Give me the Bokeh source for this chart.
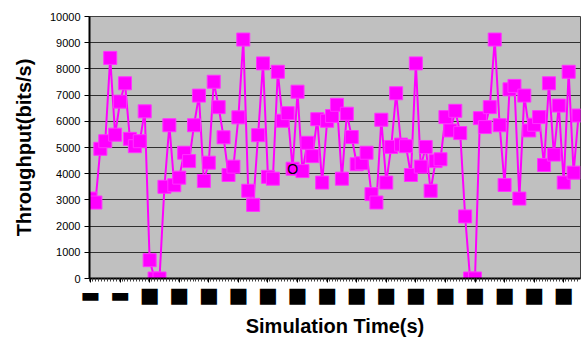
from bokeh.plotting import figure
from bokeh.models import Range1d, FixedTicker, ColumnDataSource
from bokeh.core.properties import value
from bokeh.embed import file_html
from bokeh.resources import INLINE

# ---- data ----
times = list(range(1, 101))
throughput = [
    3050, 2900, 4950, 5240, 8420, 5490, 6750, 7450, 5330, 5050,
    5240, 6380, 700, 0, 0, 3500, 5850, 3560, 3850, 4800,
    4480, 5850, 6980, 3720, 4420, 7510, 6540, 5390, 3950, 4270,
    6150, 9120, 3350, 2810, 5470, 8210, 3880, 3810, 7890, 6020,
    6310, 4190, 7130, 4100, 5180, 4670, 6080, 3660, 6020, 6200,
    6630, 3810, 6290, 5400, 4360, 4400, 4800, 3220, 2900, 6060,
    3660, 5020, 7070, 5110, 5050, 3950, 8210, 4270, 5020, 3350,
    4480, 4550, 6160, 5650, 6400, 5550, 2370, 0, 0, 6120,
    5780, 6540, 9120, 5850, 3570, 7220, 7350, 3050, 6980, 5650,
    5870, 6160, 4330, 7450, 4730, 6600, 3660, 7890, 4040, 6220,
]
y_ticks = list(range(0, 10001, 1000))
x_ticks = list(range(1, 101, 6))
# the x tick labels in the reference are illegible black blobs
x_tick_labels = {t: "\u25A0" for t in x_ticks}
x_tick_labels[1] = "\u25AC"
x_tick_labels[7] = "\u25AC"
note_index = 41
note_text = "O"

FONT = "Liberation Sans"

p = figure(width=584, height=339, output_backend="svg", toolbar_location=None,
           x_range=Range1d(0.8, 100.4), y_range=Range1d(0, 10000),
           min_border_left=89, min_border_right=4, min_border_top=16,
           min_border_bottom=59)
p.background_fill_color = "#C0C0C0"
p.border_fill_color = "white"
p.outline_line_color = "#404040"
p.outline_line_width = 1

p.xgrid.visible = False
p.ygrid.grid_line_color = "#303030"
p.ygrid.grid_line_width = 1

# y axis
p.yaxis.ticker = FixedTicker(ticks=y_ticks)
p.yaxis.major_label_text_font = FONT
p.yaxis.major_label_text_font_size = "11px"
p.yaxis.major_label_text_color = "black"
p.yaxis.minor_tick_line_color = None
p.yaxis.axis_line_width = 2
p.yaxis.axis_line_color = "black"
p.yaxis.major_tick_out = 5
p.yaxis.major_tick_in = 0
p.yaxis.major_label_standoff = 4
p.yaxis.axis_label = "Throughput(bits/s)"
p.yaxis.axis_label_text_font = FONT
p.yaxis.axis_label_text_font_size = "20px"
p.yaxis.axis_label_text_font_style = "bold"
p.yaxis.axis_label_text_color = "black"
p.yaxis.axis_label_standoff = 12

# x axis
minor = [0.8 + 0.6 * i for i in range(166)]
p.xaxis.ticker = FixedTicker(ticks=x_ticks, minor_ticks=minor)
p.xaxis.major_label_overrides = x_tick_labels
p.xaxis.major_label_text_font = "DejaVu Sans"
p.xaxis.major_label_text_font_size = "21px"
p.xaxis.major_label_text_color = "black"
p.xaxis.axis_line_width = 2
p.xaxis.axis_line_color = "black"
p.xaxis.major_tick_out = 4
p.xaxis.major_tick_in = 0
p.xaxis.minor_tick_out = 3
p.xaxis.minor_tick_in = 0
p.xaxis.minor_tick_line_color = "#404040"
p.xaxis.major_label_standoff = 0
p.xaxis.axis_label = "Simulation Time(s)"
p.xaxis.axis_label_text_font = FONT
p.xaxis.axis_label_text_font_size = "20px"
p.xaxis.axis_label_text_font_style = "bold"
p.xaxis.axis_label_text_color = "black"
p.xaxis.axis_label_standoff = 5

src = ColumnDataSource(dict(t=times, v=throughput))
p.line("t", "v", source=src, line_color="#FF00FF", line_width=2)
p.scatter("t", "v", source=src, marker="square", size=13,
          fill_color="#FF00FF", line_color="#FF33FF", line_width=1)

p.text(x=[times[note_index]], y=[throughput[note_index]], text=[note_text],
       text_align="center", text_baseline="middle",
       text_font=value(FONT), text_font_size="14px", text_color="black")

open("out.html", "w").write(file_html(p, INLINE))
